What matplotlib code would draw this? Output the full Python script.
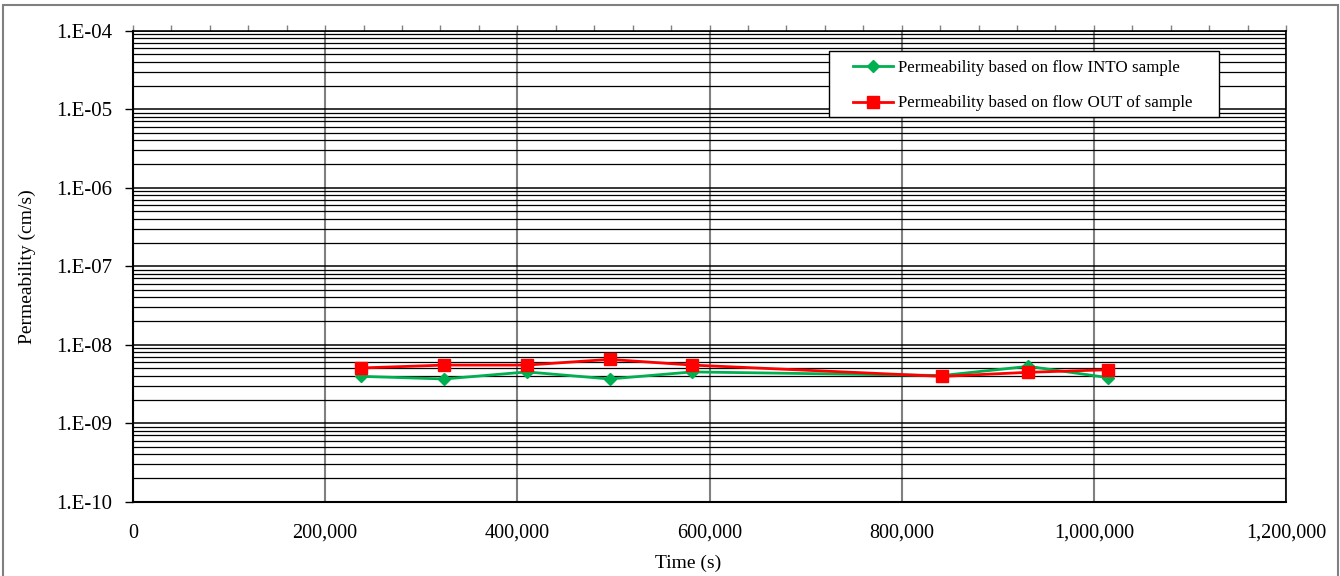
import math
import matplotlib
matplotlib.use("Agg")
import matplotlib.pyplot as plt
from matplotlib.ticker import FixedLocator, FuncFormatter, LogLocator, NullFormatter
from matplotlib.patches import Rectangle

# Test readings: elapsed time (s) and permeability (cm/s)
time_s = [237000, 324000, 410000, 496000, 582000, 842000, 932000, 1015000]
k_inflow = [3.95e-9, 3.66e-9, 4.5e-9, 3.66e-9, 4.5e-9, 4.05e-9, 5.3e-9, 3.8e-9]
k_outflow = [5.05e-9, 5.5e-9, 5.5e-9, 6.5e-9, 5.5e-9, 3.95e-9, 4.45e-9, 4.8e-9]

x_ticks = [0, 200000, 400000, 600000, 800000, 1000000, 1200000]
y_ticks = [1e-10, 1e-9, 1e-8, 1e-7, 1e-6, 1e-5, 1e-4]

plt.rcParams['font.family'] = ['Liberation Serif', 'DejaVu Serif']

W, H = 1340, 576
fig = plt.figure(figsize=(W / 100, H / 100), dpi=100)
ax = fig.add_axes([133 / W, 1 - 501.7 / H, (1286 - 133) / W, (501.7 - 30.7) / H])

ax.plot(time_s, k_inflow, color='#00B050', lw=2, marker='D', ms=6,
        label='Permeability based on flow INTO sample', zorder=3)
ax.plot(time_s, k_outflow, color='#FF0000', lw=2, marker='s', ms=8,
        label='Permeability based on flow OUT of sample', zorder=4)

ax.set_yscale('log')
ax.set_ylim(1e-10, 1e-4)
ax.set_xlim(0, 1200000)

# y axis: decade labels like 1.E-08, horizontal grid at every minor step
ax.yaxis.set_major_locator(FixedLocator(y_ticks))
ax.yaxis.set_major_formatter(FuncFormatter(lambda v, p: '1.E-%02d' % round(-math.log10(v))))
ax.yaxis.set_minor_locator(LogLocator(base=10, subs=range(2, 10)))
ax.yaxis.set_minor_formatter(NullFormatter())
ax.grid(True, which='major', axis='y', color='black', lw=1.1)
ax.grid(True, which='minor', axis='y', color='black', lw=0.9)
ax.tick_params(axis='y', which='major', direction='out', length=6, width=1, pad=9,
               labelsize=15, left=True, right=False)
ax.tick_params(axis='y', which='minor', length=0)

# x axis: labels along the bottom, small tick marks along the top edge
ax.xaxis.set_major_locator(FixedLocator(x_ticks))
ax.xaxis.set_major_formatter(FuncFormatter(lambda v, p: '{:,.0f}'.format(v)))
ax.xaxis.set_minor_locator(FixedLocator(range(0, 1200001, 40000)))
ax.grid(True, which='major', axis='x', color='#808080', lw=1.5)
ax.tick_params(axis='x', which='both', direction='out', bottom=False, top=True,
               labelbottom=True, length=4, width=1, color='#808080', labelsize=14.5, pad=12)

for side in ['top', 'right']:
    ax.spines[side].set_color('black')
    ax.spines[side].set_linewidth(1.2)
for side in ['left', 'bottom']:
    ax.spines[side].set_linewidth(1.5)

ax.set_xlabel('Time (s)', fontsize=14)
ax.xaxis.set_label_coords((688 - 133) / 1153, -(563 - 501.7) / 471, transform=ax.transAxes)
ax.set_ylabel('Permeability (cm/s)', fontsize=14)
ax.yaxis.set_label_coords(-(133 - 27) / 1153, 0.5)
ax.xaxis.label.set_va('center')
ax.yaxis.label.set_va('center')

# legend entries, with a separate box drawn round them
leg = ax.legend(loc='upper left', bbox_to_anchor=(853 / W, 1 - 60 / H),
                bbox_transform=fig.transFigure, fontsize=12.2, frameon=False,
                handlelength=2.37, handletextpad=0.3, labelspacing=1.15,
                borderpad=0, borderaxespad=0)
leg.set_zorder(6)
ax.add_patch(Rectangle((829 / W, 1 - 117 / H), 390 / W, 66 / H,
                       transform=fig.transFigure, facecolor='white',
                       edgecolor='black', lw=1.0, zorder=5, clip_on=False))

# chart border
fig.patches.append(Rectangle((3 / W, -0.05), 1335 / W, 1.05 - 5 / H,
                             transform=fig.transFigure, fill=False, edgecolor='#808080', lw=1.5))

fig.savefig('out.png', dpi=100)
